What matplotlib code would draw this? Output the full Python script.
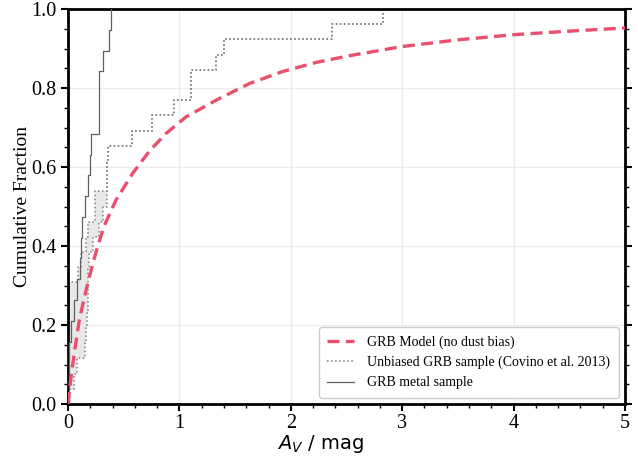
import matplotlib
matplotlib.use('Agg')
import matplotlib.pyplot as plt
from matplotlib.ticker import MultipleLocator
import numpy as np

plt.rcParams['font.family'] = ['Liberation Serif', 'DejaVu Serif']
plt.rcParams['mathtext.fontset'] = 'dejavusans'

# GRB model (no dust bias)
model_av = [0.0, 0.01, 0.035, 0.065, 0.10, 0.14, 0.177, 0.222, 0.267, 0.326, 0.43,
            0.58, 0.73, 0.88, 1.06, 1.335, 1.634, 1.93, 2.23, 2.53, 3.0, 3.5,
            4.0, 4.5, 5.0]
model_cdf = [0.0, 0.03, 0.085, 0.145, 0.21, 0.262, 0.305, 0.355, 0.40, 0.452, 0.516,
             0.584, 0.640, 0.685, 0.727, 0.770, 0.812, 0.842, 0.865, 0.882, 0.905, 0.922,
             0.935, 0.944, 0.952]

# unbiased sample (Covino et al. 2013): two bounds of the same 26 objects
unbiased_low = [0.01, 0.01, 0.01, 0.01, 0.01, 0.01, 0.01, 0.01, 0.09, 0.12, 0.16, 0.18,
                0.245, 0.245, 0.347, 0.347, 0.36, 0.575, 0.75, 0.955, 1.10, 1.10,
                1.33, 1.40, 2.37, 2.83]
unbiased_high = [0.02, 0.05, 0.08, 0.15, 0.165, 0.17, 0.175, 0.177, 0.18, 0.185, 0.22, 0.28,
                 0.317, 0.347, 0.347, 0.347, 0.36, 0.575, 0.75, 0.955, 1.10, 1.10,
                 1.33, 1.40, 2.37, 2.83]

# GRB metal sample, 19 objects
metal_av = [0.01, 0.01, 0.01, 0.03, 0.05, 0.08, 0.105, 0.12, 0.13, 0.15, 0.177, 0.197,
            0.206, 0.274, 0.278, 0.28, 0.31, 0.37, 0.39]


def StepCDF(values):
    v = np.sort(np.array(values, dtype=float))
    x = np.concatenate([[0.0], v])
    y = np.arange(len(v) + 1) / float(len(v))
    return x, y


def CDFAt(values, grid):
    v = np.sort(np.array(values, dtype=float))
    return np.searchsorted(v, grid, side='right') / float(len(v))


fig = plt.figure(figsize=(6.38, 4.58), dpi=100)
ax = fig.add_axes([0.1066, 0.1179, 0.873, 0.8624])

grey_dot = '#808080'
grey_line = '#606060'
pink = '#e8506e'

# shaded band between the two unbiased bounds
grid = np.array(sorted(set([0.0] + unbiased_low + unbiased_high)))
ax.fill_between(grid, CDFAt(unbiased_high, grid), CDFAt(unbiased_low, grid),
                step='post', color='#e8e8e8', lw=0, zorder=1)

x, y = StepCDF(unbiased_low)
ax.step(x, y, where='post', color=grey_dot, ls=':', lw=1.1, zorder=2)
x, y = StepCDF(unbiased_high)
ax.step(x, y, where='post', color=grey_dot, ls=':', lw=1.1, zorder=2,
        label='Unbiased GRB sample (Covino et al. 2013)')

x, y = StepCDF(metal_av)
ax.step(x, y, where='post', color=grey_line, ls='-', lw=0.9, zorder=3,
        label='GRB metal sample')

ax.plot(model_av, model_cdf, color=pink, ls=(0, (3.6, 1.9)), lw=2.4, zorder=4,
        label='GRB Model (no dust bias)')

ax.set_xlim(0, 5)
ax.set_ylim(0, 1)
ax.xaxis.set_major_locator(MultipleLocator(1))
ax.xaxis.set_minor_locator(MultipleLocator(0.2))
ax.yaxis.set_major_locator(MultipleLocator(0.2))
ax.yaxis.set_minor_locator(MultipleLocator(0.05))
ax.grid(True, which='major', color='#ececec', lw=1.0, zorder=0)
ax.set_axisbelow(True)

for s in ax.spines.values():
    s.set_linewidth(2.0)
ax.tick_params(which='both', direction='out', top=False, right=True,
               labelsize=14.5)
ax.tick_params(which='major', length=5, width=1.5)
ax.tick_params(which='minor', length=3, width=1.0)
ax.tick_params(axis='x', which='major', pad=2)

ax.set_xlabel(r'$A_V\ /\ \mathrm{mag}$', fontsize=14)
ax.xaxis.set_label_coords(0.454, -0.074)
ax.set_ylabel('Cumulative Fraction', fontsize=14, labelpad=0)

h, l = ax.get_legend_handles_labels()
order = [2, 0, 1]
leg = ax.legend([h[i] for i in order], [l[i] for i in order], loc='lower right',
                fontsize=10, frameon=True, fancybox=True, framealpha=1.0,
                borderpad=0.6, handlelength=1.9, handletextpad=1.0,
                borderaxespad=0.45)
leg.get_frame().set_edgecolor('#cccccc')

plt.savefig('out.png', dpi=100)
